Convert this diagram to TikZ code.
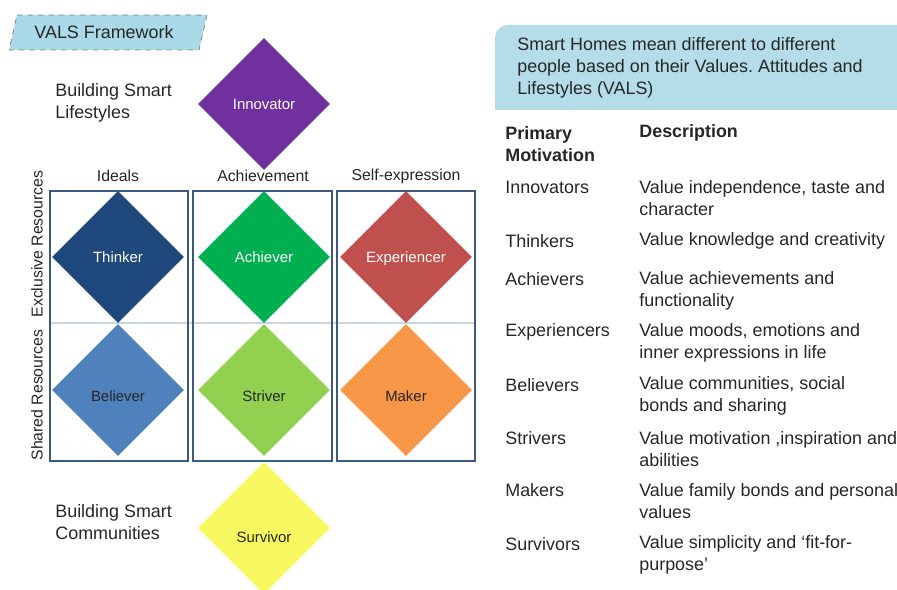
\documentclass[tikz,border=0pt]{standalone}
\usepackage{fontspec}
\setmainfont{Liberation Sans}
\usetikzlibrary{shapes.geometric}
\frenchspacing

\begin{document}
\begin{tikzpicture}[x=0.02cm, y=-0.02cm,
    seg/.style={diamond, aspect=1, inner sep=0pt, minimum size=2.64cm,
        text height=6.5pt, text depth=0pt,
        font=\fontsize{8.5}{10}\selectfont},
    low/.style={text height=13pt, text depth=0pt},
    lower/.style={text height=16pt, text depth=0pt},
    colbox/.style={draw=boxblue, line width=1.1pt},
    head/.style={font=\fontsize{9}{11}\selectfont, text=ink},
    big/.style={anchor=west, align=left, inner sep=0pt,
        font=\fontsize{10.2}{12.6}\selectfont, text=ink}]
\definecolor{ink}{HTML}{262626}
\definecolor{boxblue}{HTML}{3B5A7E}
\definecolor{divide}{HTML}{C8D6E4}
\definecolor{banner}{HTML}{AAD9E8}
\definecolor{callout}{HTML}{B5DDE9}
\definecolor{innov}{HTML}{7030A0}
\definecolor{think}{HTML}{1F497D}
\definecolor{achv}{HTML}{00B050}
\definecolor{expr}{HTML}{C0504D}
\definecolor{belv}{HTML}{4F81BD}
\definecolor{striv}{HTML}{92D050}
\definecolor{make}{HTML}{F79646}
\definecolor{surv}{HTML}{F8F860}

\useasboundingbox (0, 0) rectangle (897, 590);

% title tag
\draw[dashed, gray, fill=banner] (17, 15) -- (207, 15) -- (199, 50) -- (9, 50) -- cycle;
\node[big, anchor=center] (title) at (104, 32) {VALS Framework};

% three columns, split into exclusive / shared
\draw[divide, line width=0.6pt] (50, 323) -- (475, 323);
\draw[colbox] (50, 191) rectangle (188, 461);
\draw[colbox] (193, 191) rectangle (332, 461);
\draw[colbox] (337, 191) rectangle (475, 461);

\node[head] (ideals) at (118, 176) {Ideals};
\node[head] (achievement) at (263, 176) {Achievement};
\node[head] (selfexp) at (406, 176) {Self-expression};

\node[head, rotate=90] (exclusive) at (37, 244) {Exclusive Resources};
\node[head, rotate=90] (shared) at (37, 395) {Shared Resources};

\node[seg, fill=innov, text=white] (innovator) at (264, 104) {Innovator};
\node[seg, fill=think, text=white] (thinker) at (118, 257) {Thinker};
\node[seg, fill=achv, text=white] (achiever) at (264, 257) {Achiever};
\node[seg, fill=expr, text=white] (experiencer) at (406, 257) {Experiencer};
\node[seg, low, fill=belv, text=ink] (believer) at (118, 390) {Believer};
\node[seg, low, fill=striv, text=ink] (striver) at (264, 390) {Striver};
\node[seg, low, fill=make, text=ink] (maker) at (406, 390) {Maker};
\node[seg, lower, fill=surv, text=ink] (survivor) at (264, 528) {Survivor};

\node[big] (lifestyles) at (55, 102.5) {Building Smart\\Lifestyles};
\node[big] (communities) at (55, 522) {Building Smart\\Communities};

% right hand table
\fill[callout] (897, 110) -- (495, 110) [rounded corners=0.25cm] -- (495, 25)
    [sharp corners] -- (897, 25) -- cycle;
\node[big] (intro) at (517, 68)
    {Smart Homes mean different to different\\people based on their Values. Attitudes and\\Lifestyles (VALS)};

\node[big, font=\fontsize{10.2}{12.6}\selectfont\bfseries] (hmotiv) at (505, 144) {Primary\\Motivation};
\node[big, font=\fontsize{10.2}{12.6}\selectfont\bfseries] (hdesc) at (639, 133) {Description};

\node[big] (mInnov) at (505, 187) {Innovators};
\node[big] (dInnov) at (639, 198.5) {Value independence, taste and\\character};
\node[big] (mThink) at (505, 241) {Thinkers};
\node[big] (dThink) at (639, 241) {Value knowledge and creativity};
\node[big] (mAchv) at (505, 279) {Achievers};
\node[big] (dAchv) at (639, 290.5) {Value achievements and\\functionality};
\node[big] (mExpr) at (505, 332) {Experiencers};
\node[big] (dExpr) at (639, 342.5) {Value moods, emotions and\\inner expressions in life};
\node[big] (mBelv) at (505, 385) {Believers};
\node[big] (dBelv) at (639, 396) {Value communities, social\\bonds and sharing};
\node[big] (mStriv) at (505, 438) {Strivers};
\node[big] (dStriv) at (639, 449) {Value motivation ,inspiration and\\abilities};
\node[big] (mMake) at (505, 490) {Makers};
\node[big] (dMake) at (639, 501.5) {Value family bonds and personal\\values};
\node[big] (mSurv) at (505, 544) {Survivors};
\node[big] (dSurv) at (639, 555) {Value simplicity and ‘fit-for-\\purpose’};

\end{tikzpicture}
\end{document}
